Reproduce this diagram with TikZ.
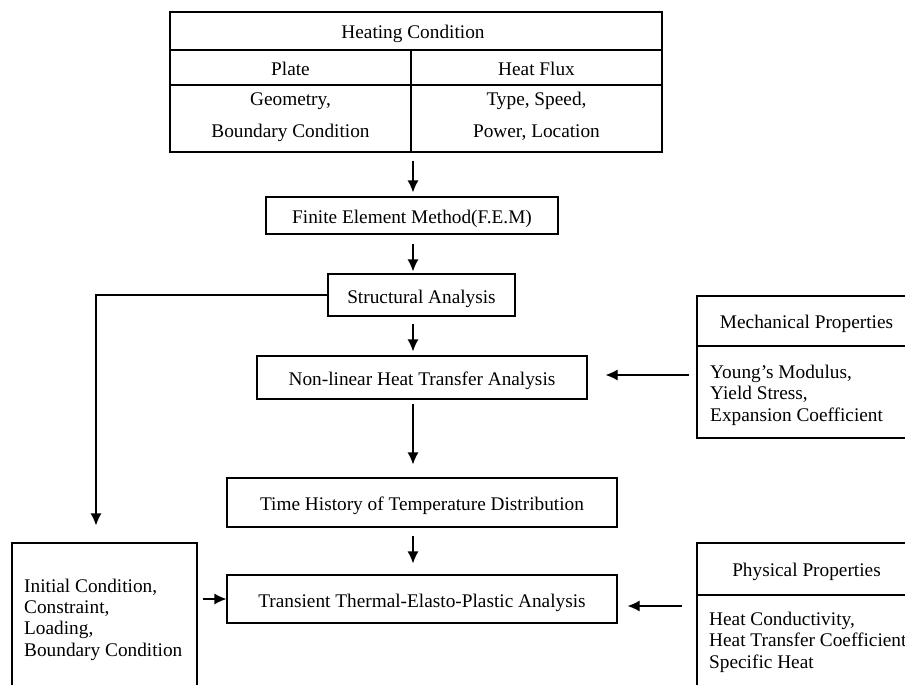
\documentclass[tikz,border=0pt]{standalone}
\usepackage{fontspec}
\setmainfont{Liberation Serif}
\usetikzlibrary{arrows.meta}

\begin{document}
\begin{tikzpicture}[x=1pt,y=-1pt,
    font=\fontsize{19.3}{21.3}\selectfont,
    box/.style={draw,line width=1.2pt,inner sep=0pt,text height=16pt,text depth=0pt},
    txt/.style={inner sep=0pt,anchor=base},
    lines/.style={inner sep=0pt,anchor=base west,align=left},
    flow/.style={line width=1.2pt,-{Latex[length=12pt,width=11pt]}}]

  \useasboundingbox (0,0) rectangle (905,685);
  \clip (0,0) rectangle (905,685);

  \node[box,minimum width=492,minimum height=140] (heat) at (416,82) {};
  \draw[line width=1.2pt] (170,50) -- (662,50) (170,85) -- (662,85) (411,50) -- (411,152);
  \node[txt] (hc) at (413,39) {Heating Condition};
  \node[txt] (plate) at (290.5,75) {Plate};
  \node[txt] (flux) at (536.5,75) {Heat Flux};
  \node[txt] (geo) at (290.5,105) {Geometry,};
  \node[txt] (bc) at (290.5,137) {Boundary Condition};
  \node[txt] (type) at (536.5,105) {Type, Speed,};
  \node[txt] (pow) at (536.5,137) {Power, Location};

  \node[box,minimum width=292,minimum height=37] (fem) at (412,215.5) {Finite Element Method(F.E.M)};
  \node[box,minimum width=187,minimum height=42] (struct) at (421.5,295) {Structural Analysis};
  \node[box,minimum width=330,minimum height=43] (nonlin) at (422,377.5) {Non-linear Heat Transfer Analysis};
  \node[box,minimum width=390,minimum height=49] (time) at (422,502.5) {Time History of Temperature Distribution};
  \node[box,minimum width=390,minimum height=48] (trans) at (422,599) {Transient Thermal-Elasto-Plastic Analysis};

  \node[box,minimum width=185,minimum height=177] (init) at (104.5,631.5) {};
  \node[lines] (inittxt) at (24,656) {Initial Condition,\\Constraint,\\Loading,\\Boundary Condition};

  \node[box,minimum width=233,minimum height=142] (mech) at (813.5,367) {};
  \draw[line width=1.2pt] (697,346) -- (930,346);
  \node[txt] (mechtl) at (806.5,328) {Mechanical Properties};
  \node[lines] (mechtxt) at (710,421) {Young's Modulus,\\Yield Stress,\\Expansion Coefficient};

  \node[box,minimum width=233,minimum height=177] (phys) at (813.5,631.5) {};
  \draw[line width=1.2pt] (697,595) -- (930,595);
  \node[txt] (phystl) at (806.5,576) {Physical Properties};
  \node[lines] (phystxt) at (709,668) {Heat Conductivity,\\Heat Transfer Coefficient\\Specific Heat};

  \coordinate (axis) at (413,0);
  \coordinate (bend) at (96,0);
  \coordinate (nin) at ([yshift=2.5pt]nonlin.east);
  \coordinate (tin) at ([yshift=-7pt]trans.east);

  \draw[flow,shorten <=8,shorten >=4] (axis |- heat.south) -- (axis |- fem.north);
  \draw[flow,shorten <=9,shorten >=2] (axis |- fem.south) -- (axis |- struct.north);
  \draw[flow,shorten <=7,shorten >=4] (axis |- struct.south) -- (axis |- nonlin.north);
  \draw[flow,shorten <=4,shorten >=13] (axis |- nonlin.south) -- (axis |- time.north);
  \draw[flow,shorten <=8,shorten >=11] (axis |- time.south) -- (axis |- trans.north);
  \draw[flow,shorten >=17] (struct.west) -| (bend |- init.north);
  \draw[flow,shorten <=7,shorten >=18] (nin -| mech.west) -- (nin);
  \draw[flow,shorten <=14,shorten >=10] (tin -| phys.west) -- (tin);
  \draw[flow,shorten <=5] (init.east |- trans.west) -- (trans.west);
\end{tikzpicture}
\end{document}
